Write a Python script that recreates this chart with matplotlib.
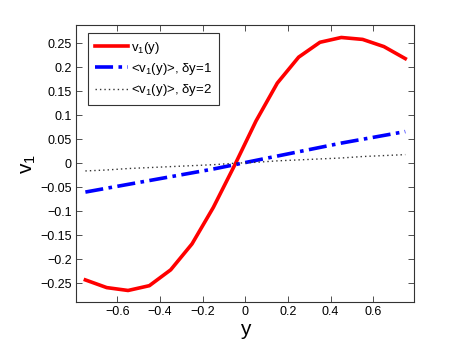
import matplotlib

matplotlib.use("Agg")
import matplotlib.pyplot as plt

plt.rcParams["font.family"] = ["Liberation Sans", "DejaVu Sans"]
plt.rcParams["mathtext.fontset"] = "custom"
plt.rcParams["mathtext.rm"] = "Liberation Sans"
plt.rcParams["mathtext.it"] = "Liberation Sans"

# sample positions across the channel
y_pos = [-0.75, -0.65, -0.55, -0.45, -0.35, -0.25, -0.15, -0.05,
         0.05, 0.15, 0.25, 0.35, 0.45, 0.55, 0.65, 0.75]
v1 = [-0.243, -0.259, -0.265, -0.255, -0.222, -0.168, -0.092, -0.004,
      0.088, 0.167, 0.221, 0.252, 0.262, 0.258, 0.243, 0.218]
v1_avg_dy1 = [-0.060, -0.052, -0.044, -0.036, -0.028, -0.020, -0.012, -0.003,
              0.006, 0.015, 0.024, 0.033, 0.042, 0.050, 0.058, 0.066]
v1_avg_dy2 = [-0.016, -0.014, -0.011, -0.009, -0.007, -0.005, -0.003, 0.000,
              0.002, 0.005, 0.007, 0.009, 0.011, 0.014, 0.016, 0.018]

labels = [r"v$_1$(y)", r"<v$_1$(y)>, δy=1", r"<v$_1$(y)>, δy=2"]
yticks = [-0.25, -0.2, -0.15, -0.1, -0.05, 0, 0.05, 0.1, 0.15, 0.2, 0.25]
xticks = [-0.6, -0.4, -0.2, 0, 0.2, 0.4, 0.6]


def fmt(v):
    s = f"{v:g}"
    return s.replace("-", "\u2212")


fig = plt.figure(figsize=(4.57, 3.44), dpi=100)
ax = fig.add_axes([76 / 457, 1 - 302 / 344, (414 - 76) / 457, (302 - 25) / 344])

ax.plot(y_pos, v1, color="red", lw=2.6, label=labels[0])
ax.plot(y_pos, v1_avg_dy1, color="blue", lw=2.6, ls=(0, (5, 1.5, 1, 1.5)), label=labels[1])
ax.plot(y_pos, v1_avg_dy2, color="#333333", lw=1.0, ls=(0, (1, 2.2)), label=labels[2])

ax.set_xlim(-0.794, 0.791)
ax.set_ylim(-0.289, 0.288)
ax.set_xticks(xticks)
ax.set_xticklabels([fmt(v) for v in xticks])
ax.set_yticks(yticks)
ax.set_yticklabels([fmt(v) for v in yticks])
ax.tick_params(direction="in", top=True, right=True, labelsize=9, length=4,
               width=0.6, color="#333333", pad=3)
for sp in ax.spines.values():
    sp.set_linewidth(0.8)
    sp.set_color("#333333")

ax.set_xlabel("y", fontsize=15, labelpad=1)
ax.set_ylabel(r"v$_1$", fontsize=15, labelpad=2)

leg = ax.legend(loc="upper left", fontsize=9.5, fancybox=False, framealpha=1,
                edgecolor="#333333", handlelength=2.5, borderpad=0.5,
                labelspacing=0.4, handletextpad=0.25, borderaxespad=0,
                bbox_to_anchor=(12 / 338, 1 - 8 / 277))
leg.get_frame().set_linewidth(0.8)

fig.savefig("out.png", dpi=100)
